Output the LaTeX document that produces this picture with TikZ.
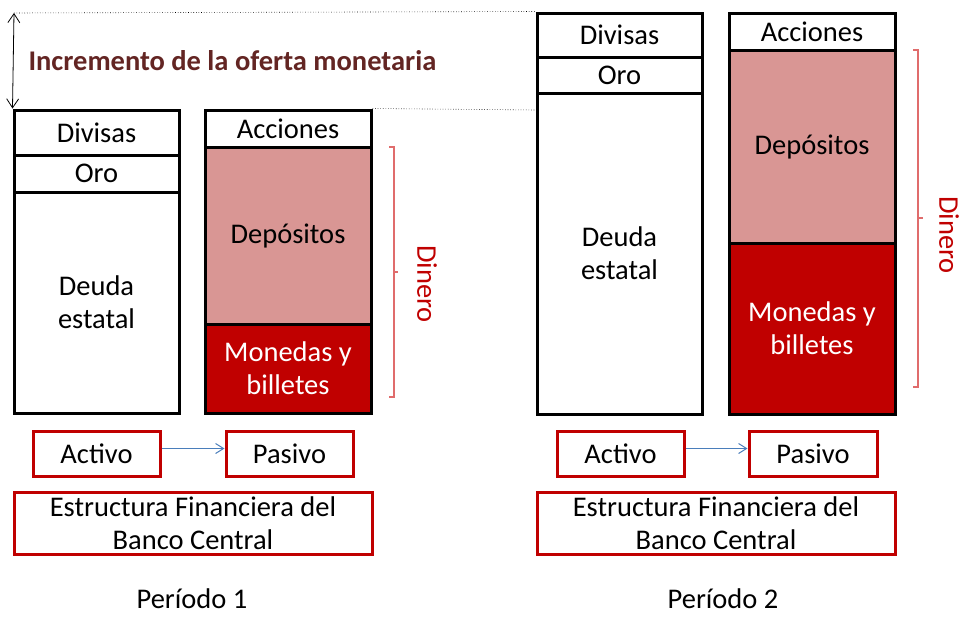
\documentclass[tikz,border=0pt]{standalone}
\usepackage{fontspec}
\setmainfont{Carlito}
\usetikzlibrary{shadows,arrows.meta}
\definecolor{rojo}{HTML}{C00000}
\definecolor{rosa}{HTML}{D99694}
\definecolor{granate}{HTML}{632523}
\definecolor{azul}{HTML}{4A7EBB}
\definecolor{llave}{HTML}{E06C6C}
\newcommand{\letra}{\fontsize{28.5}{33}\selectfont}
\tikzset{
  cuenta/.style={draw=black, line width=3pt, fill=white, inner sep=0pt, align=center, font=\letra},
  deposito/.style={cuenta, fill=rosa},
  efectivo/.style={cuenta, fill=rojo, text=white},
  etiqueta/.style={draw=rojo, line width=3pt, fill=white, inner sep=0pt, align=center, font=\letra,
    drop shadow={opacity=0.25, shadow xshift=1.5pt, shadow yshift=-1.5pt}},
  flecha/.style={azul, line width=1pt, -{Straight Barb[length=8pt, width=10pt]}},
  dinero/.style={text=rojo, font=\letra, rotate=-90},
  corchete/.style={llave, line width=1.2pt},
}
\begin{document}
\begin{tikzpicture}[x=1pt, y=-1pt]
\useasboundingbox (0,0) rectangle (960,616);
% periodo 1
\node[cuenta, minimum width=165, minimum height=45] (div1) at (96.5,132.5) {Divisas};
\node[cuenta, minimum width=165, minimum height=37] (oro1) at (96.5,173.5) {Oro};
\node[cuenta, minimum width=165, minimum height=221] (deu1) at (96.5,302.5) {Deuda\\estatal};
\node[cuenta, minimum width=166, minimum height=37] (acc1) at (288,128.5) {Acciones};
\node[deposito, minimum width=166, minimum height=177] (dep1) at (288,235.5) {Depósitos};
\node[efectivo, minimum width=166, minimum height=89] (mon1) at (288,368.5) {Monedas y\\billetes};
\draw[corchete] (389,147) -- (394,147) -- (394,397) -- (389,397) (394,272) -- (398,272);
\node[dinero] (din1) at (427,284) {Dinero};
% periodo 2
\node[cuenta, minimum width=165, minimum height=44] (div2) at (619.5,35) {Divisas};
\node[cuenta, minimum width=165, minimum height=36] (oro2) at (619.5,75) {Oro};
\node[cuenta, minimum width=165, minimum height=321] (deu2) at (619.5,253.5) {Deuda\\estatal};
\node[cuenta, minimum width=166, minimum height=37] (acc2) at (812,31.5) {Acciones};
\node[deposito, minimum width=166, minimum height=193] (dep2) at (812,146.5) {Depósitos};
\node[efectivo, minimum width=166, minimum height=171] (mon2) at (812,328.5) {Monedas y\\billetes};
\draw[corchete] (913,50) -- (918,50) -- (918,387) -- (913,387) (918,218) -- (923,218);
\node[dinero] (din2) at (949,235) {Dinero};
% incremento
\coordinate (cima) at (14,13);
\coordinate (nivel) at (537,110);
\draw[line width=0.6pt, dotted] (cima) -- (div2.north west);
\draw[line width=0.6pt, dotted] (acc1.north east) -- (nivel);
\draw[line width=0.8pt, {Straight Barb[length=9pt, width=12pt]}-{Straight Barb[length=9pt, width=12pt]}] (cima) -- (div1.north west);
\node[anchor=base west, text=granate, font=\letra\bfseries] (incr) at (25,70) {Incremento de la oferta monetaria};
% cajas inferiores
\node[etiqueta, minimum width=127, minimum height=45] (act1) at (96.5,453.5) {Activo};
\node[etiqueta, minimum width=127, minimum height=45] (pas1) at (289.5,453.5) {Pasivo};
\draw[flecha] ([yshift=5pt]act1.east) -- ([yshift=5pt]pas1.west);
\node[etiqueta, minimum width=358, minimum height=62] (est1) at (193,523) {Estructura Financiera del\\Banco Central};
\node[font=\letra, anchor=base, inner sep=0pt] (per1) at (192,608) {Período 1};
\node[etiqueta, minimum width=127, minimum height=45] (act2) at (620.5,453.5) {Activo};
\node[etiqueta, minimum width=128, minimum height=45] (pas2) at (813,453.5) {Pasivo};
\draw[flecha] ([yshift=5pt]act2.east) -- ([yshift=5pt]pas2.west);
\node[etiqueta, minimum width=358, minimum height=62] (est2) at (716,523) {Estructura Financiera del\\Banco Central};
\node[font=\letra, anchor=base, inner sep=0pt] (per2) at (723,608) {Período 2};
\end{tikzpicture}
\end{document}
